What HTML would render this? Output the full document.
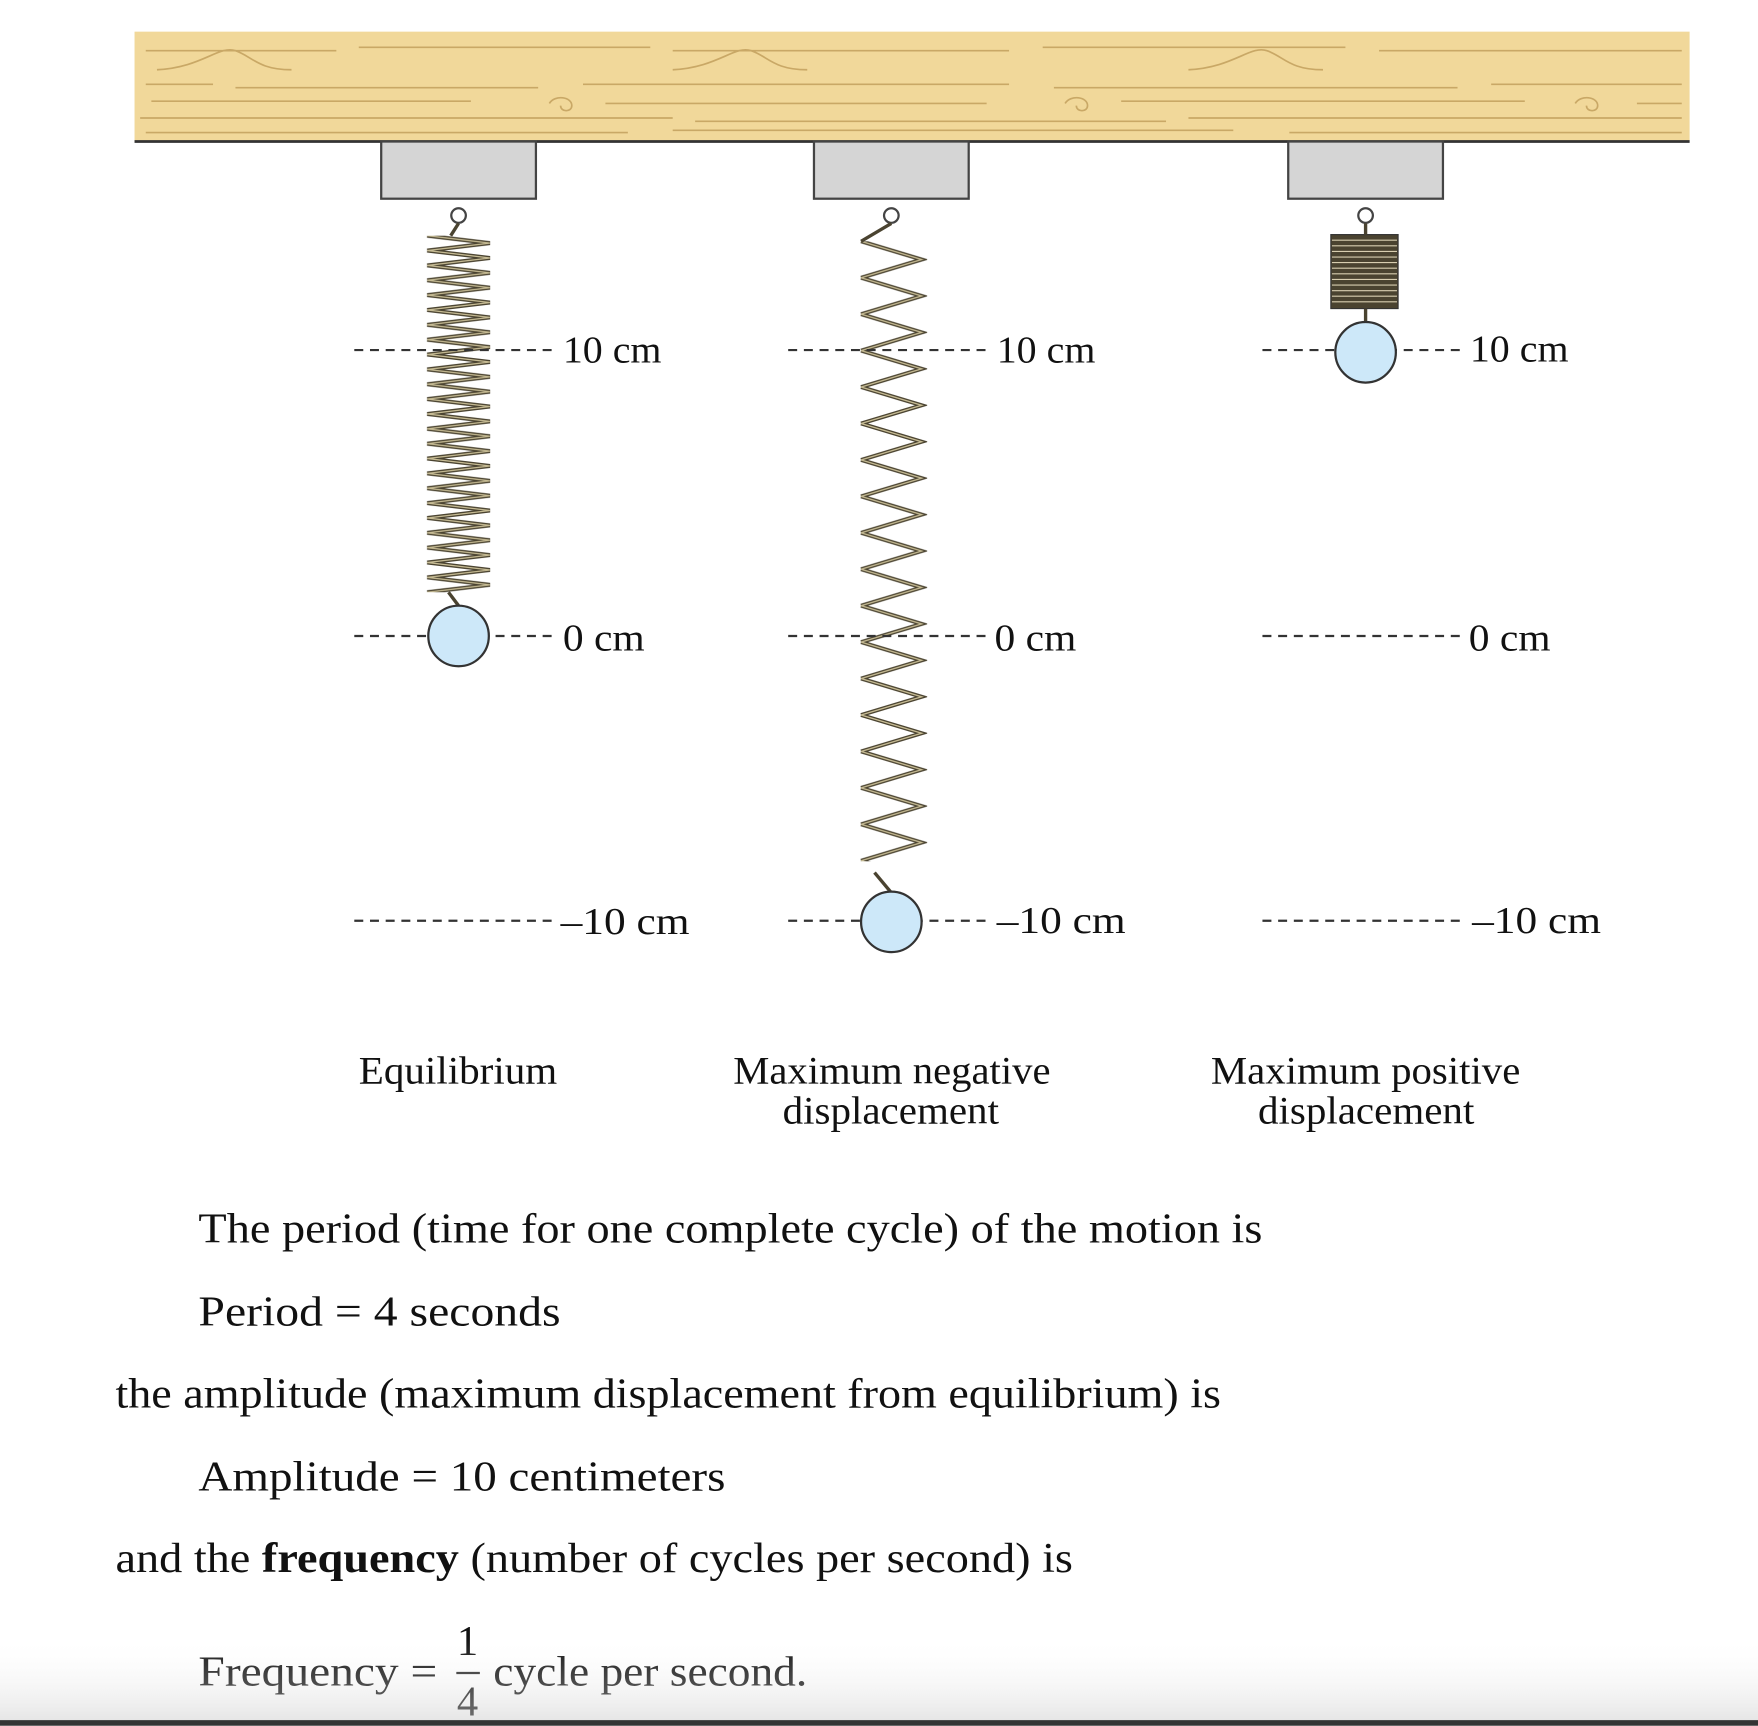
<!DOCTYPE html>
<html><head><meta charset="utf-8"><style>
html,body{margin:0;padding:0;background:#fff;width:1758px;height:1726px;overflow:hidden}
svg{display:block}
text{font-family:"Liberation Serif",serif;fill:#111}
</style></head><body>
<svg width="1758" height="1726" viewBox="0 0 1568 1539" xmlns="http://www.w3.org/2000/svg">
<defs>
<pattern id="z1" patternUnits="userSpaceOnUse" x="378" y="210" width="100" height="13.25">
<path d="M3,0 L59,6.625 L3,13.25" fill="none" stroke="#4a4330" stroke-width="3.6"/>
<path d="M3,0 L59,6.625 L3,13.25" fill="none" stroke="#c8bd95" stroke-width="1.2"/>
</pattern>
<pattern id="z2" patternUnits="userSpaceOnUse" x="765" y="215" width="100" height="32.5">
<path d="M3,0 L57,16.25 L3,32.5" fill="none" stroke="#4a4330" stroke-width="3.6"/>
<path d="M3,0 L57,16.25 L3,32.5" fill="none" stroke="#c8bd95" stroke-width="1.2"/>
</pattern>
<linearGradient id="sh" x1="0" y1="0" x2="0" y2="1"><stop offset="0" stop-color="#fff" stop-opacity="0"/><stop offset="1" stop-color="#ccc"/></linearGradient>
</defs>
<rect x="120" y="28" width="1387" height="98" fill="#f1d89a"/>
<g stroke="#c9a866" stroke-width="1.5" fill="none">
<path d="M130,45 H300 M320,42 H580 M600,45 H900 M930,42 H1200 M1230,45 H1500"/>
<path d="M140,62 C180,60 195,40 210,45 C225,50 230,62 260,62 M600,62 C640,60 655,40 670,45 C685,50 690,62 720,62 M1060,62 C1100,60 1115,40 1130,45 C1145,50 1150,62 1180,62"/>
<path d="M130,75 H190 M210,78 H480 M520,75 H900 M940,78 H1300 M1330,75 H1500"/>
<path d="M135,90 H420 M540,92 H880 M1000,90 H1360 M1460,92 H1500"/>
<path d="M490,92 c5,-8 20,-6 20,2 c0,6 -10,6 -10,0 M950,92 c5,-8 20,-6 20,2 c0,6 -10,6 -10,0 M1405,92 c5,-8 20,-6 20,2 c0,6 -10,6 -10,0"/>
<path d="M125,105 H600 M620,108 H1040 M1060,105 H1500 M130,118 H560 M600,116 H1100 M1150,118 H1500"/>
</g>
<line x1="120" y1="126" x2="1507" y2="126" stroke="#333" stroke-width="2.5"/>
<g fill="#d5d5d5" stroke="#444" stroke-width="2">
<rect x="340" y="126" width="138" height="51"/>
<rect x="726" y="126" width="138" height="51"/>
<rect x="1149" y="126" width="138" height="51"/>
</g>
<g fill="#fff" stroke="#444" stroke-width="2">
<circle cx="409" cy="192" r="6.5"/><circle cx="795" cy="192" r="6.5"/><circle cx="1218" cy="192" r="6.5"/>
</g>
<rect x="378" y="210" width="64" height="318" fill="url(#z1)"/>
<path d="M409,199 L402,210" stroke="#4a4330" stroke-width="3"/>
<path d="M400,528 L409,540" stroke="#4a4330" stroke-width="3"/>
<rect x="765" y="215" width="62" height="553" fill="url(#z2)"/>
<path d="M795,199 L768,215" stroke="#4a4330" stroke-width="3"/>
<path d="M780,778 L795,796" stroke="#4a4330" stroke-width="3"/>
<rect x="1187" y="209" width="60" height="66" fill="#4a4330" stroke="#333" stroke-width="1"/>
<g stroke="#d8ceb0" stroke-width="1">
<path d="M1188,214H1246M1188,219H1246M1188,224H1246M1188,229H1246M1188,234H1246M1188,239H1246M1188,244H1246M1188,249H1246M1188,254H1246M1188,259H1246M1188,264H1246M1188,269H1246"/>
</g>
<path d="M1218,199 L1218,209 M1218,275 L1218,288" stroke="#4a4330" stroke-width="3"/>
<g stroke="#333" stroke-width="2" stroke-dasharray="8,6">
<line x1="316" y1="312" x2="492" y2="312"/><line x1="703" y1="312" x2="880" y2="312"/><line x1="1126" y1="312" x2="1302" y2="312"/>
<line x1="316" y1="567" x2="492" y2="567"/><line x1="703" y1="567" x2="880" y2="567"/><line x1="1126" y1="567" x2="1302" y2="567"/>
<line x1="316" y1="821" x2="496" y2="821"/><line x1="703" y1="821" x2="885" y2="821"/><line x1="1126" y1="821" x2="1306" y2="821"/>
</g>
<g fill="#cde8f9" stroke="#333" stroke-width="2">
<circle cx="409" cy="567" r="27"/><circle cx="795" cy="822" r="27"/><circle cx="1218" cy="314" r="27"/>
</g>
<g font-size="34">
<text x="502" y="323" textLength="88" lengthAdjust="spacingAndGlyphs">10 cm</text>
<text x="889" y="323" textLength="88" lengthAdjust="spacingAndGlyphs">10 cm</text>
<text x="1311" y="322" textLength="88" lengthAdjust="spacingAndGlyphs">10 cm</text>
<text x="502" y="580" textLength="73" lengthAdjust="spacingAndGlyphs">0 cm</text>
<text x="887" y="580" textLength="73" lengthAdjust="spacingAndGlyphs">0 cm</text>
<text x="1310" y="580" textLength="73" lengthAdjust="spacingAndGlyphs">0 cm</text>
<text x="500" y="833" textLength="115" lengthAdjust="spacingAndGlyphs">–10 cm</text>
<text x="889" y="832" textLength="115" lengthAdjust="spacingAndGlyphs">–10 cm</text>
<text x="1313" y="832" textLength="115" lengthAdjust="spacingAndGlyphs">–10 cm</text>
</g>
<g font-size="35">
<text x="320" y="966" textLength="177" lengthAdjust="spacingAndGlyphs">Equilibrium</text>
<text x="654" y="966" textLength="283" lengthAdjust="spacingAndGlyphs">Maximum negative</text>
<text x="698" y="1002" textLength="193" lengthAdjust="spacingAndGlyphs">displacement</text>
<text x="1080" y="966" textLength="276" lengthAdjust="spacingAndGlyphs">Maximum positive</text>
<text x="1122" y="1002" textLength="193" lengthAdjust="spacingAndGlyphs">displacement</text>
</g>
<g font-size="38">
<text x="177" y="1108" textLength="949" lengthAdjust="spacingAndGlyphs">The period (time for one complete cycle) of the motion is</text>
<text x="177" y="1182" textLength="323" lengthAdjust="spacingAndGlyphs">Period = 4 seconds</text>
<text x="103" y="1255" textLength="986" lengthAdjust="spacingAndGlyphs">the amplitude (maximum displacement from equilibrium) is</text>
<text x="177" y="1329" textLength="470" lengthAdjust="spacingAndGlyphs">Amplitude = 10 centimeters</text>
<text x="103" y="1402" textLength="854" lengthAdjust="spacingAndGlyphs">and the <tspan font-weight="bold">frequency</tspan> (number of cycles per second) is</text>
<text x="177" y="1503" textLength="213" lengthAdjust="spacingAndGlyphs">Frequency =</text>
<text x="417" y="1476" text-anchor="middle">1</text>
<text x="417" y="1530" text-anchor="middle">4</text>
<text x="440" y="1503" textLength="280" lengthAdjust="spacingAndGlyphs">cycle per second.</text>
</g>
<line x1="407" y1="1492" x2="428" y2="1492" stroke="#222" stroke-width="2"/>
<rect x="0" y="1460" width="1568" height="75" fill="url(#sh)" opacity="0.5"/>
<rect x="0" y="1534" width="1568" height="5" fill="#333"/>
</svg>
</body></html>
